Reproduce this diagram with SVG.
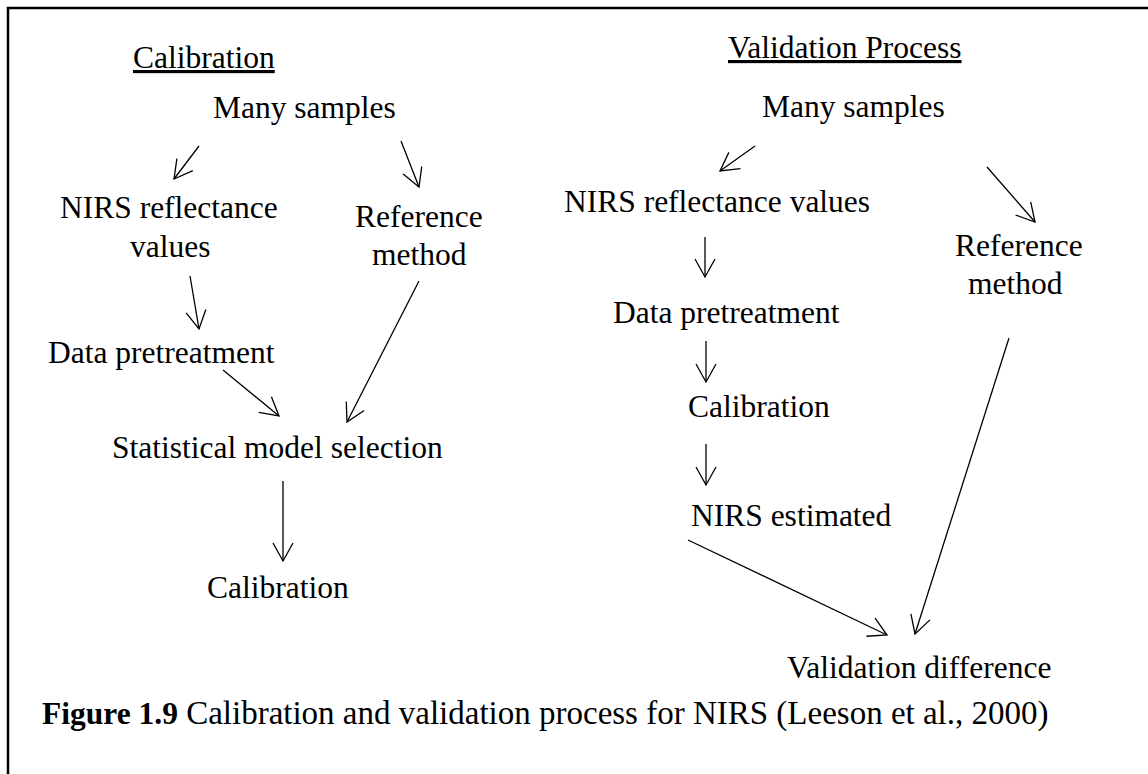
<svg xmlns="http://www.w3.org/2000/svg" width="1148" height="774" viewBox="0 0 1148 774">
  <style>
    .t { font-family: "Liberation Serif", "Times New Roman", serif; font-size: 31.5px; fill: #000; }
    .u { text-decoration: underline; }
    .b { font-weight: bold; }
    .cap { font-size: 33px; }
    .c { stroke: #000; stroke-width: 1.3; fill: none; marker-end: url(#arrow); }
    .frame { stroke: #000; stroke-width: 2.5; fill: none; }
  </style>
  <defs>
    <marker id="arrow" markerUnits="userSpaceOnUse" viewBox="-20 -12 22 24" markerWidth="22" markerHeight="24" refX="0" refY="0" orient="auto">
      <path d="M -18 -10 L 0 0 L -18 10" stroke="#000" stroke-width="1.3" fill="none"/>
    </marker>
  </defs>
  <rect width="1148" height="774" fill="#fff"/>
  <!-- frame: top and left rules only -->
  <path class="frame" d="M 8 774 L 8 8 L 1148 8"/>

  <!-- calibration column -->
  <g id="cal-title"><text class="t u" x="133" y="68">Calibration</text></g>
  <g id="cal-samples"><text class="t" x="213" y="118">Many samples</text></g>
  <g id="cal-nirs"><text class="t" x="60" y="218">NIRS reflectance</text><text class="t" x="130" y="257">values</text></g>
  <g id="cal-reference"><text class="t" x="355" y="227">Reference</text><text class="t" x="372" y="265">method</text></g>
  <g id="cal-pretreatment"><text class="t" x="48" y="363">Data pretreatment</text></g>
  <g id="cal-model"><text class="t" x="112" y="458">Statistical model selection</text></g>
  <g id="cal-result"><text class="t" x="207" y="598">Calibration</text></g>

  <!-- validation column -->
  <g id="val-title"><text class="t u" x="728" y="58">Validation Process</text></g>
  <g id="val-samples"><text class="t" x="762" y="117">Many samples</text></g>
  <g id="val-nirs"><text class="t" x="564" y="212">NIRS reflectance values</text></g>
  <g id="val-reference"><text class="t" x="955" y="256">Reference</text><text class="t" x="968" y="294">method</text></g>
  <g id="val-pretreatment"><text class="t" x="613" y="323">Data pretreatment</text></g>
  <g id="val-calibration"><text class="t" x="688" y="417">Calibration</text></g>
  <g id="val-estimated"><text class="t" x="691" y="526">NIRS estimated</text></g>
  <g id="val-difference"><text class="t" x="787" y="678">Validation difference</text></g>

  <!-- caption -->
  <g id="caption"><text class="t" x="42" y="724"><tspan class="b">Figure 1.9</tspan><tspan class="cap"> Calibration and validation process for NIRS (Leeson et al., 2000)</tspan></text></g>

  <g id="connectors">
    <path class="c" d="M 199 146 L 174 179"/>
    <path class="c" d="M 401 141 L 419 187"/>
    <path class="c" d="M 190 276 L 199 329"/>
    <path class="c" d="M 223 370 L 279 416"/>
    <path class="c" d="M 419 281 L 347 422"/>
    <path class="c" d="M 283 481 L 283 561"/>
    <path class="c" d="M 755 146 L 720 171"/>
    <path class="c" d="M 987 167 L 1035 222"/>
    <path class="c" d="M 705 237 L 705 277"/>
    <path class="c" d="M 706 341 L 706 382"/>
    <path class="c" d="M 706 444 L 706 485"/>
    <path class="c" d="M 688 540 L 887 635"/>
    <path class="c" d="M 1009 338 L 915 634"/>
  </g>
</svg>
